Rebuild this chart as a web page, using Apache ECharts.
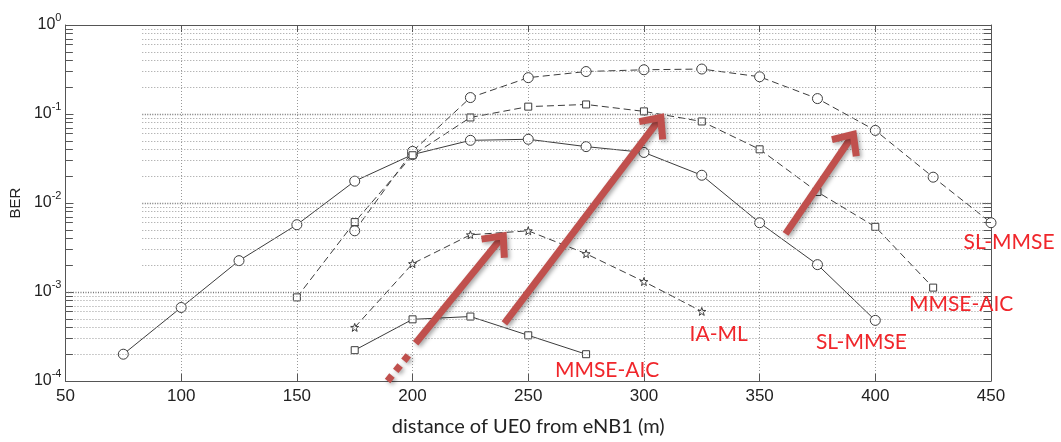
<!DOCTYPE html>
<html>
<head>
<meta charset="utf-8">
<script src="https://cdn.jsdelivr.net/npm/echarts@6/dist/echarts.min.js"></script>
<style>
html,body{margin:0;padding:0;background:#fff;}
#chart{width:1061px;height:442px;}
</style>
</head>
<body>
<div id="chart"></div>
<script>
// ---- data ----
const xTicks = [50, 100, 150, 200, 250, 300, 350, 400, 450];
const yExponents = [-4, -3, -2, -1, 0];

const distSlLow = [75, 100, 125, 150, 175, 200, 225, 250, 275, 300, 325, 350, 375, 400];
const berSlLow  = [2.0e-4, 6.7e-4, 2.25e-3, 5.7e-3, 1.76e-2, 3.5e-2, 5.06e-2, 5.2e-2, 4.3e-2, 3.7e-2, 2.05e-2, 6.0e-3, 2.03e-3, 4.8e-4];

const distSlHigh = [175, 200, 225, 250, 275, 300, 325, 350, 375, 400, 425, 450];
const berSlHigh  = [4.87e-3, 3.8e-2, 0.153, 0.256, 0.30, 0.314, 0.32, 0.262, 0.149, 0.0654, 0.0195, 6.0e-3];

const distAicHigh = [150, 175, 200, 225, 250, 275, 300, 325, 350, 375, 400, 425];
const berAicHigh  = [8.7e-4, 6.1e-3, 3.44e-2, 0.0914, 0.121, 0.128, 0.107, 0.0824, 0.0401, 0.0133, 5.4e-3, 1.12e-3];

const distIaml = [175, 200, 225, 250, 275, 300, 325];
const berIaml  = [4.0e-4, 2.08e-3, 4.39e-3, 4.87e-3, 2.69e-3, 1.31e-3, 6.05e-4];

const distAicLow = [175, 200, 225, 250, 275];
const berAicLow  = [2.22e-4, 4.93e-4, 5.3e-4, 3.26e-4, 2.0e-4];

// annotation texts (data coordinates)
const annotationTexts = ['SL-MMSE', 'MMSE-AIC', 'IA-ML', 'SL-MMSE', 'MMSE-AIC'];
const annotationX = [457.8, 437.1, 332.3, 394.0, 284.1];
const annotationY = [3.66e-3, 7.25e-4, 3.35e-4, 2.73e-4, 1.33e-4];

// arrows (data coordinates: start, tip)
const arrowStart = [[239.7, 4.45e-4], [201.3, 2.66e-4], [361.2, 4.5e-3]];
const arrowTip   = [[307.3, 0.0914], [239.2, 4.28e-3], [390.5, 0.059]];
const dottedStart = [189.2, 1.0e-4];
const dottedEnd   = [199.6, 2.16e-4];

// ---- build ----
const pairs = (xs, ys) => xs.map((x, i) => [x, ys[i]]);
const xMin = xTicks[0], xMax = xTicks[xTicks.length - 1];
const gridGapX = 83.2;

const starPath = 'path://M0,-10L2.35,-3.24L9.51,-3.09L3.8,1.24L5.88,8.09L0,4L-5.88,8.09L-3.8,1.24L-9.51,-3.09L-2.35,-3.24Z';

// grid lines & minor ticks
const gridLines = [];
const tickLines = [];
for (let e = -4; e < 0; e++) {
  for (let m = 1; m <= 9; m++) {
    const v = m * Math.pow(10, e);
    const startX = v <= 1.0001e-3 ? xMin : gridGapX;
    if (e !== -4 || m !== 1) {
      gridLines.push([{coord: [startX, v], lineStyle: m === 1 ? {color: '#777', type: [1, 1.5], width: 1.3} : {}}, {coord: [xMax, v]}]);
    }
    if (m > 1) {
      tickLines.push([{coord: [xMin, v]}, {coord: [xMin + 3.2, v]}]);
      tickLines.push([{coord: [xMax - 3.2, v]}, {coord: [xMax, v]}]);
    }
  }
}

const lineColor = '#3c3c3c';
function dataSeries(name, xs, ys, symbol, size, dashed) {
  return {
    name, type: 'line', data: pairs(xs, ys), z: 3,
    symbol, symbolSize: size, showSymbol: true,
    lineStyle: {color: lineColor, width: 1, type: dashed ? [7, 4] : 'solid'},
    itemStyle: {color: '#fff', borderColor: lineColor, borderWidth: 1},
    emphasis: {disabled: true}, silent: true, animation: false
  };
}

const arrowColor = '#c0504d';

const option = {
  animation: false,
  backgroundColor: '#fff',
  grid: {left: 63, right: 70, top: 25, bottom: 59, containLabel: false},
  xAxis: [{
    type: 'value', min: xMin, max: xMax, interval: 50, position: 'bottom',
    name: 'distance of UE0 from eNB1 (m)', nameLocation: 'middle', nameGap: 36,
    nameTextStyle: {fontFamily: 'Lato', fontSize: 20, color: '#222'},
    axisLine: {show: true, lineStyle: {color: '#555', width: 1}},
    axisTick: {show: true, inside: true, length: 7, lineStyle: {color: '#555'}},
    axisLabel: {fontFamily: 'Liberation Sans', fontSize: 17, color: '#222', margin: 7,
      formatter: v => xTicks.includes(v) ? String(v) : ''},
    splitLine: {show: true, lineStyle: {color: '#999', type: [1, 2], width: 1}}
  }, {
    type: 'value', min: xMin, max: xMax, interval: 50, position: 'top',
    axisLine: {show: true, lineStyle: {color: '#555', width: 1}},
    axisTick: {show: true, inside: true, length: 7, lineStyle: {color: '#555'}},
    axisLabel: {show: false}, splitLine: {show: false}
  }],
  yAxis: [{
    type: 'log', logBase: 10, min: 1e-4, max: 1, position: 'left',
    name: 'BER', nameLocation: 'middle', nameGap: 40,
    nameTextStyle: {fontFamily: 'Liberation Sans', fontSize: 15, color: '#222'},
    axisLine: {show: true, lineStyle: {color: '#555', width: 1}},
    axisTick: {show: true, inside: true, length: 8, lineStyle: {color: '#555'}},
    axisLabel: {
      margin: 4,
      formatter: v => {
        const e = Math.round(Math.log10(v));
        return yExponents.includes(e) ? '{b|10}{s|' + e + '}' : '';
      },
      rich: {
        b: {fontFamily: 'Liberation Sans', fontSize: 16, color: '#222', padding: [5, 0, 5, 0], verticalAlign: 'middle'},
        s: {fontFamily: 'Liberation Sans', fontSize: 11, color: '#222', verticalAlign: 'top'}
      }
    },
    splitLine: {show: false}
  }, {
    type: 'log', logBase: 10, min: 1e-4, max: 1, position: 'right',
    axisLine: {show: true, lineStyle: {color: '#555', width: 1}},
    axisTick: {show: true, inside: true, length: 8, lineStyle: {color: '#555'}},
    axisLabel: {show: false}, splitLine: {show: false}
  }],
  series: [
    {
      name: 'grid', type: 'line', data: [], z: 1, silent: true, animation: false,
      markLine: {
        silent: true, symbol: ['none', 'none'], animation: false,
        label: {show: false},
        lineStyle: {color: '#999', type: [1, 2], width: 1},
        emphasis: {disabled: true},
        data: gridLines
      }
    },
    {
      name: 'ticks', type: 'line', data: [], z: 2, silent: true, animation: false,
      markLine: {
        silent: true, symbol: ['none', 'none'], animation: false,
        label: {show: false},
        lineStyle: {color: '#555', type: 'solid', width: 1},
        emphasis: {disabled: true},
        data: tickLines
      }
    },
    dataSeries('SL-MMSE low', distSlLow, berSlLow, 'circle', 10, false),
    dataSeries('SL-MMSE high', distSlHigh, berSlHigh, 'circle', 10, true),
    dataSeries('MMSE-AIC high', distAicHigh, berAicHigh, 'rect', 7, true),
    dataSeries('IA-ML', distIaml, berIaml, starPath, 8, true),
    dataSeries('MMSE-AIC low', distAicLow, berAicLow, 'rect', 7, false)
  ]
};

const chart = echarts.init(document.getElementById('chart'), null, {renderer: 'canvas'});
chart.setOption(option);

// annotations placed through the axes' own scales
const toPx = p => chart.convertToPixel({xAxisIndex: 0, yAxisIndex: 0}, p);
const graphics = [];
const shadow = {shadowBlur: 4, shadowColor: 'rgba(0,0,0,0.35)', shadowOffsetX: 2, shadowOffsetY: 2};
arrowStart.forEach((s, i) => {
  const a = toPx(s), b = toPx(arrowTip[i]);
  const dx = b[0] - a[0], dy = b[1] - a[1];
  const len = Math.hypot(dx, dy);
  const ux = dx / len, uy = dy / len;
  const arm = 22, ang = 42 * Math.PI / 180;
  const rot = (x, y, t) => [x * Math.cos(t) - y * Math.sin(t), x * Math.sin(t) + y * Math.cos(t)];
  const r1 = rot(-ux, -uy, ang), r2 = rot(-ux, -uy, -ang);
  graphics.push({
    type: 'polyline', z: 100, silent: true,
    shape: {points: [[a[0], a[1]], [b[0] - ux * 4, b[1] - uy * 4]]},
    style: Object.assign({stroke: arrowColor, lineWidth: 7, fill: null}, shadow)
  });
  graphics.push({
    type: 'polyline', z: 100, silent: true,
    shape: {points: [[b[0] + r1[0] * arm, b[1] + r1[1] * arm], [b[0], b[1]], [b[0] + r2[0] * arm, b[1] + r2[1] * arm]]},
    style: Object.assign({stroke: arrowColor, lineWidth: 7, fill: null, lineJoin: 'miter', miterLimit: 10}, shadow)
  });
});
{
  const a = toPx(dottedStart), b = toPx(dottedEnd);
  graphics.push({
    type: 'line', z: 100, silent: true,
    shape: {x1: a[0], y1: a[1], x2: b[0], y2: b[1]},
    style: Object.assign({stroke: arrowColor, lineWidth: 7, lineDash: [7, 6]}, shadow)
  });
}
annotationTexts.forEach((t, i) => {
  const p = toPx([annotationX[i], annotationY[i]]);
  graphics.push({
    type: 'text', z: 101, silent: true, x: p[0], y: p[1],
    style: {text: t, fill: '#f0262b', font: '21px Lato', align: 'center', verticalAlign: 'middle'}
  });
});
chart.setOption({graphic: graphics});
</script>
</body>
</html>
